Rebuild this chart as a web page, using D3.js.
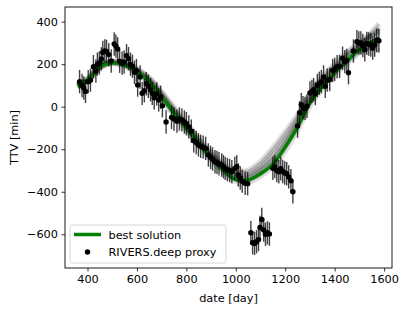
<!DOCTYPE html>
<html>
<head>
<meta charset="utf-8">
<script src="https://cdn.jsdelivr.net/npm/d3@7"></script>
<style>
  body { margin: 0; background: #fff; }
  svg text { font-family: "DejaVu Sans", sans-serif; }
</style>
</head>
<body>
<div id="visual"></div>
<script>
const obsDay = [368, 378, 385, 392, 403, 412, 424, 434, 440, 448, 456, 462, 470, 477, 486, 496, 508, 515, 522, 530,
  540, 548, 558, 566, 574, 582, 590, 598, 603, 613, 621, 630, 638, 646, 655, 662, 670, 680, 688, 696,
  703, 718, 740, 750, 762, 772, 782, 792, 800, 810, 820, 830, 840, 849, 858, 868, 878, 889, 898, 906,
  916, 924, 932, 943, 950, 957, 966, 975, 984, 996, 1004, 1010, 1018, 1026, 1038, 1048,
  1061, 1068, 1076, 1084, 1092, 1098, 1105, 1113, 1120, 1128, 1136,
  1150, 1158, 1166, 1174, 1182, 1190, 1198, 1206, 1214, 1223, 1231,
  1250, 1258, 1265, 1272, 1280, 1288, 1300, 1308, 1315, 1322, 1330, 1338, 1346, 1355, 1362, 1370,
  1380, 1392, 1400, 1410, 1420, 1432, 1441, 1449, 1456, 1476, 1490, 1498, 1506, 1514, 1522, 1530,
  1538, 1546, 1554, 1562, 1570, 1579];
const obsTTV = [118, 100, 88, 72, 118, 125, 188, 168, 200, 206, 225, 255, 262, 260, 245, 215, 295, 285, 272, 214,
  205, 210, 240, 226, 200, 190, 162, 170, 102, 140, 63, 75, 108, 96, 80, 63, 42, 60, 32, 45,
  5, -72, -50, -58, -68, -58, -62, -72, -80, -95, -115, -160, -168, -180, -186, -190, -196, -227, -238, -246,
  -259, -262, -268, -274, -282, -290, -296, -300, -306, -290, -282, -321, -335, -350, -360, -362,
  -593, -640, -643, -635, -625, -568, -530, -580, -600, -593, -599,
  -290, -282, -300, -306, -292, -305, -312, -315, -330, -348, -400,
  -91, -28, 10, -5, -8, 2, 65, 72, 80, 62, 100, 110, 118, 140, 96, 125,
  128, 170, 176, 188, 190, 228, 212, 218, 160, 262, 306, 300, 300, 288, 268, 298,
  295, 290, 276, 290, 312, 310];
const obsErr = 55; // typical half-length of the error bars

// best model and a few posterior samples
const modelDay = [360, 400, 450, 500, 550, 600, 650, 700, 750, 800, 850, 900, 950, 1000, 1050, 1100, 1150, 1200, 1250, 1300, 1350, 1400, 1450, 1500, 1550, 1580];
const bestTTV = [97, 125, 188, 207, 196, 165, 118, 47, -30, -101, -172, -241, -298, -343, -345, -315, -270, -190, -95, 20, 95, 160, 215, 268, 305, 323];
const sampleA = [100, 130, 192, 212, 205, 178, 135, 68, -5, -78, -150, -215, -268, -300, -300, -260, -195, -120, -40, 60, 140, 200, 255, 300, 340, 360];
const sampleB = [95, 122, 185, 210, 200, 172, 128, 58, -18, -90, -160, -228, -283, -322, -325, -290, -235, -160, -70, 40, 120, 180, 235, 285, 330, 350];
const sampleC = [92, 120, 183, 204, 192, 160, 112, 40, -38, -110, -180, -250, -306, -350, -355, -325, -280, -205, -110, 5, 85, 150, 205, 255, 285, 295];
const sampleD = [100, 128, 190, 209, 198, 168, 122, 52, -25, -95, -165, -235, -290, -330, -330, -298, -250, -175, -80, 30, 110, 175, 235, 290, 350, 390];
const sampleE = [95, 124, 186, 206, 194, 163, 115, 44, -33, -104, -176, -245, -300, -340, -338, -305, -255, -180, -85, 25, 100, 165, 215, 258, 275, 260];
const sampleF = [98, 127, 190, 211, 202, 174, 130, 62, -12, -84, -155, -222, -276, -312, -312, -275, -215, -140, -55, 50, 130, 190, 245, 295, 335, 372];
const samples = [sampleA, sampleB, sampleC, sampleD, sampleE, sampleF];

const xTicks = [400, 600, 800, 1000, 1200, 1400, 1600];
const yTicks = [-600, -400, -200, 0, 200, 400];
const legendLabels = ["best solution", "RIVERS.deep proxy"];

let width = 407, height = 313;
let margin = {left: 65, right: 15, top: 7, bottom: 45};
let fontSize = "11.3px";

let svg = d3.select("#visual")
    .append("svg")
    .attr("width", width)
    .attr("height", height);

let x = d3.scaleLinear().domain([309, 1632]).range([margin.left, width - margin.right]);
let y = d3.scaleLinear().domain([-758.6, 469]).range([height - margin.bottom, margin.top]);

let fmt = d => (d < 0 ? "\u2212" + Math.abs(d) : "" + d);

// gray posterior samples
let line = d3.line()
    .x((d, i) => x(modelDay[i]))
    .y(d => y(d))
    .curve(d3.curveCatmullRom);

let plot = svg.append("g");

samples.forEach(function (s) {
    plot.append("path")
        .attr("d", line(s))
        .style("fill", "none")
        .style("stroke", "#000")
        .style("stroke-opacity", 0.12)
        .style("stroke-width", 6);
    plot.append("path")
        .attr("d", line(s))
        .style("fill", "none")
        .style("stroke", "#000")
        .style("stroke-opacity", 0.12)
        .style("stroke-width", 2);
});

// best solution
plot.append("path")
    .attr("d", line(bestTTV))
    .style("fill", "none")
    .style("stroke", "green")
    .style("stroke-width", 3.5);

// error bars + points
let obs = obsDay.map((d, i) => ({day: d, ttv: obsTTV[i]}));

plot.selectAll(".err")
    .data(obs)
    .enter().append("line")
    .attr("class", "err")
    .attr("x1", d => x(d.day))
    .attr("x2", d => x(d.day))
    .attr("y1", d => y(d.ttv - obsErr))
    .attr("y2", d => y(d.ttv + obsErr))
    .style("stroke", "#000")
    .style("stroke-opacity", 0.75)
    .style("stroke-width", 1.4);

plot.selectAll(".pt")
    .data(obs)
    .enter().append("circle")
    .attr("class", "pt")
    .attr("cx", d => x(d.day))
    .attr("cy", d => y(d.ttv))
    .attr("r", 2.7)
    .style("fill", "#000");

// axes
let xAxis = svg.append("g")
    .attr("transform", "translate(0," + (height - margin.bottom) + ")")
    .call(d3.axisBottom(x).tickValues(xTicks).tickSize(3.5).tickPadding(3.5).tickFormat(fmt));
let yAxis = svg.append("g")
    .attr("transform", "translate(" + margin.left + ",0)")
    .call(d3.axisLeft(y).tickValues(yTicks).tickSize(3.5).tickPadding(3.5).tickFormat(fmt));

[xAxis, yAxis].forEach(function (a) {
    a.select(".domain").remove();
    a.selectAll("line").style("stroke", "#000").style("stroke-width", 0.8);
    a.selectAll("text").style("font-size", fontSize).style("fill", "#000");
});

// frame
svg.append("rect")
    .attr("x", margin.left)
    .attr("y", margin.top)
    .attr("width", width - margin.left - margin.right)
    .attr("height", height - margin.top - margin.bottom)
    .style("fill", "none")
    .style("stroke", "#000")
    .style("stroke-width", 0.9);

// axis labels
svg.append("text")
    .attr("x", (margin.left + width - margin.right) / 2)
    .attr("y", 302)
    .attr("text-anchor", "middle")
    .style("font-size", fontSize)
    .text("date [day]");

svg.append("text")
    .attr("transform", "translate(18," + ((margin.top + height - margin.bottom) / 2) + ") rotate(-90)")
    .attr("text-anchor", "middle")
    .style("font-size", fontSize)
    .text("TTV [min]");

// legend
let legend = svg.append("g");
legend.append("rect")
    .attr("x", 70).attr("y", 225)
    .attr("width", 156).attr("height", 38)
    .attr("rx", 2.5)
    .style("fill", "#fff")
    .style("fill-opacity", 0.8)
    .style("stroke", "#ccc")
    .style("stroke-width", 0.8);
legend.append("line")
    .attr("x1", 74).attr("x2", 101)
    .attr("y1", 234.5).attr("y2", 234.5)
    .style("stroke", "green")
    .style("stroke-width", 3.5);
legend.append("circle")
    .attr("cx", 87.5).attr("cy", 252)
    .attr("r", 2.7)
    .style("fill", "#000");
legend.selectAll(".lab")
    .data(legendLabels)
    .enter().append("text")
    .attr("class", "lab")
    .attr("x", 108.5)
    .attr("y", (d, i) => 238.5 + i * 17.5)
    .style("font-size", fontSize)
    .text(d => d);
</script>
</body>
</html>
